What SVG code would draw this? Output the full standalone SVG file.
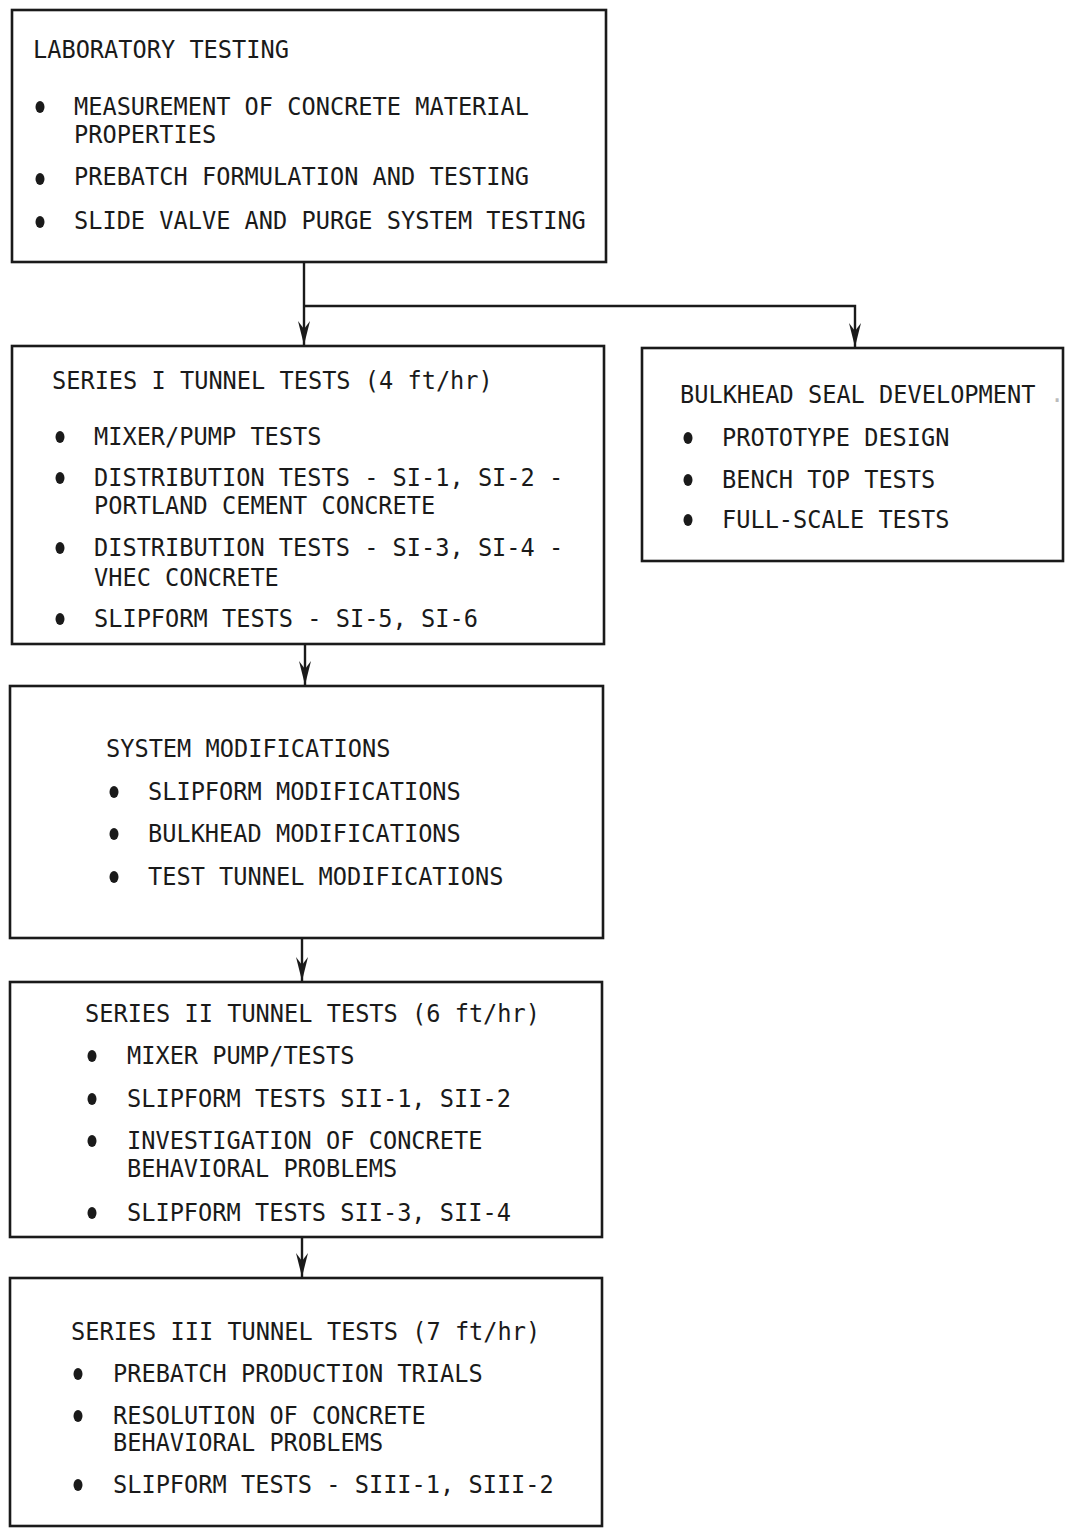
<svg xmlns="http://www.w3.org/2000/svg" width="1065" height="1528" viewBox="0 0 1065 1528">
<style>
.box{fill:#fff;stroke:#1a1a1a;stroke-width:2.6}
.t{font-family:"DejaVu Sans Mono","Liberation Mono",monospace;font-size:25px;fill:#1a1a1a}
.b{fill:#1a1a1a}
.ln{fill:none;stroke:#1a1a1a;stroke-width:2.4}
</style>
<defs>
<marker id="ah" markerUnits="userSpaceOnUse" markerWidth="24" markerHeight="14" viewBox="0 0 24 14" refX="24" refY="7" orient="auto">
<path d="M0,1 L24,7 L0,13 L8,7 Z" fill="#1a1a1a"/>
</marker>
</defs>
<rect width="1065" height="1528" fill="#fff"/>
<g id="connectors">
<path class="ln" d="M304,262 V345" marker-end="url(#ah)"/>
<path class="ln" d="M304,306 H855 V347" marker-end="url(#ah)"/>
<path class="ln" d="M305,644 V685" marker-end="url(#ah)"/>
<path class="ln" d="M302,938 V981" marker-end="url(#ah)"/>
<path class="ln" d="M302,1237 V1277" marker-end="url(#ah)"/>
</g>
<g id="lab">
<rect class="box" x="12" y="10" width="594" height="252"/>
<text class="t" transform="translate(33,58) scale(0.945,1)">LABORATORY TESTING</text>
<ellipse class="b" cx="40" cy="107" rx="4.5" ry="6"/>
<text class="t" transform="translate(74,115) scale(0.945,1)">MEASUREMENT OF CONCRETE MATERIAL</text>
<text class="t" transform="translate(74,143) scale(0.945,1)">PROPERTIES</text>
<ellipse class="b" cx="40" cy="179" rx="4.5" ry="6"/>
<text class="t" transform="translate(74,185) scale(0.945,1)">PREBATCH FORMULATION AND TESTING</text>
<ellipse class="b" cx="40" cy="222" rx="4.5" ry="6"/>
<text class="t" transform="translate(74,229) scale(0.945,1)">SLIDE VALVE AND PURGE SYSTEM TESTING</text>
</g>
<g id="series1">
<rect class="box" x="12" y="346" width="592" height="298"/>
<text class="t" transform="translate(52,389) scale(0.945,1)">SERIES I TUNNEL TESTS (4 ft/hr)</text>
<ellipse class="b" cx="60" cy="437" rx="4.5" ry="6"/>
<text class="t" transform="translate(94,445) scale(0.945,1)">MIXER/PUMP TESTS</text>
<ellipse class="b" cx="60" cy="478" rx="4.5" ry="6"/>
<text class="t" transform="translate(94,486) scale(0.945,1)">DISTRIBUTION TESTS - SI-1, SI-2 -</text>
<text class="t" transform="translate(94,514) scale(0.945,1)">PORTLAND CEMENT CONCRETE</text>
<ellipse class="b" cx="60" cy="548" rx="4.5" ry="6"/>
<text class="t" transform="translate(94,556) scale(0.945,1)">DISTRIBUTION TESTS - SI-3, SI-4 -</text>
<text class="t" transform="translate(94,586) scale(0.945,1)">VHEC CONCRETE</text>
<ellipse class="b" cx="60" cy="619" rx="4.5" ry="6"/>
<text class="t" transform="translate(94,627) scale(0.945,1)">SLIPFORM TESTS - SI-5, SI-6</text>
</g>
<g id="bulkhead">
<rect class="box" x="642" y="348" width="421" height="213"/>
<text class="t" transform="translate(680,403) scale(0.945,1)">BULKHEAD SEAL DEVELOPMENT</text>
<text class="t" style="fill:#bbb" transform="translate(1050,402) scale(0.945,1)">.</text>
<ellipse class="b" cx="688" cy="438" rx="4.5" ry="6"/>
<text class="t" transform="translate(722,446) scale(0.945,1)">PROTOTYPE DESIGN</text>
<ellipse class="b" cx="688" cy="480" rx="4.5" ry="6"/>
<text class="t" transform="translate(722,488) scale(0.945,1)">BENCH TOP TESTS</text>
<ellipse class="b" cx="688" cy="520" rx="4.5" ry="6"/>
<text class="t" transform="translate(722,528) scale(0.945,1)">FULL-SCALE TESTS</text>
</g>
<g id="sysmod">
<rect class="box" x="10" y="686" width="593" height="252"/>
<text class="t" transform="translate(106,757) scale(0.945,1)">SYSTEM MODIFICATIONS</text>
<ellipse class="b" cx="114" cy="792" rx="4.5" ry="6"/>
<text class="t" transform="translate(148,800) scale(0.945,1)">SLIPFORM MODIFICATIONS</text>
<ellipse class="b" cx="114" cy="834" rx="4.5" ry="6"/>
<text class="t" transform="translate(148,842) scale(0.945,1)">BULKHEAD MODIFICATIONS</text>
<ellipse class="b" cx="114" cy="877" rx="4.5" ry="6"/>
<text class="t" transform="translate(148,885) scale(0.945,1)">TEST TUNNEL MODIFICATIONS</text>
</g>
<g id="series2">
<rect class="box" x="10" y="982" width="592" height="255"/>
<text class="t" transform="translate(85,1022) scale(0.945,1)">SERIES II TUNNEL TESTS (6 ft/hr)</text>
<ellipse class="b" cx="92" cy="1056" rx="4.5" ry="6"/>
<text class="t" transform="translate(127,1064) scale(0.945,1)">MIXER PUMP/TESTS</text>
<ellipse class="b" cx="92" cy="1099" rx="4.5" ry="6"/>
<text class="t" transform="translate(127,1107) scale(0.945,1)">SLIPFORM TESTS SII-1, SII-2</text>
<ellipse class="b" cx="92" cy="1141" rx="4.5" ry="6"/>
<text class="t" transform="translate(127,1149) scale(0.945,1)">INVESTIGATION OF CONCRETE</text>
<text class="t" transform="translate(127,1177) scale(0.945,1)">BEHAVIORAL PROBLEMS</text>
<ellipse class="b" cx="92" cy="1213" rx="4.5" ry="6"/>
<text class="t" transform="translate(127,1221) scale(0.945,1)">SLIPFORM TESTS SII-3, SII-4</text>
</g>
<g id="series3">
<rect class="box" x="10" y="1278" width="592" height="248"/>
<text class="t" transform="translate(71,1340) scale(0.945,1)">SERIES III TUNNEL TESTS (7 ft/hr)</text>
<ellipse class="b" cx="78" cy="1374" rx="4.5" ry="6"/>
<text class="t" transform="translate(113,1382) scale(0.945,1)">PREBATCH PRODUCTION TRIALS</text>
<ellipse class="b" cx="78" cy="1416" rx="4.5" ry="6"/>
<text class="t" transform="translate(113,1424) scale(0.945,1)">RESOLUTION OF CONCRETE</text>
<text class="t" transform="translate(113,1451) scale(0.945,1)">BEHAVIORAL PROBLEMS</text>
<ellipse class="b" cx="78" cy="1485" rx="4.5" ry="6"/>
<text class="t" transform="translate(113,1493) scale(0.945,1)">SLIPFORM TESTS - SIII-1, SIII-2</text>
</g>
</svg>
